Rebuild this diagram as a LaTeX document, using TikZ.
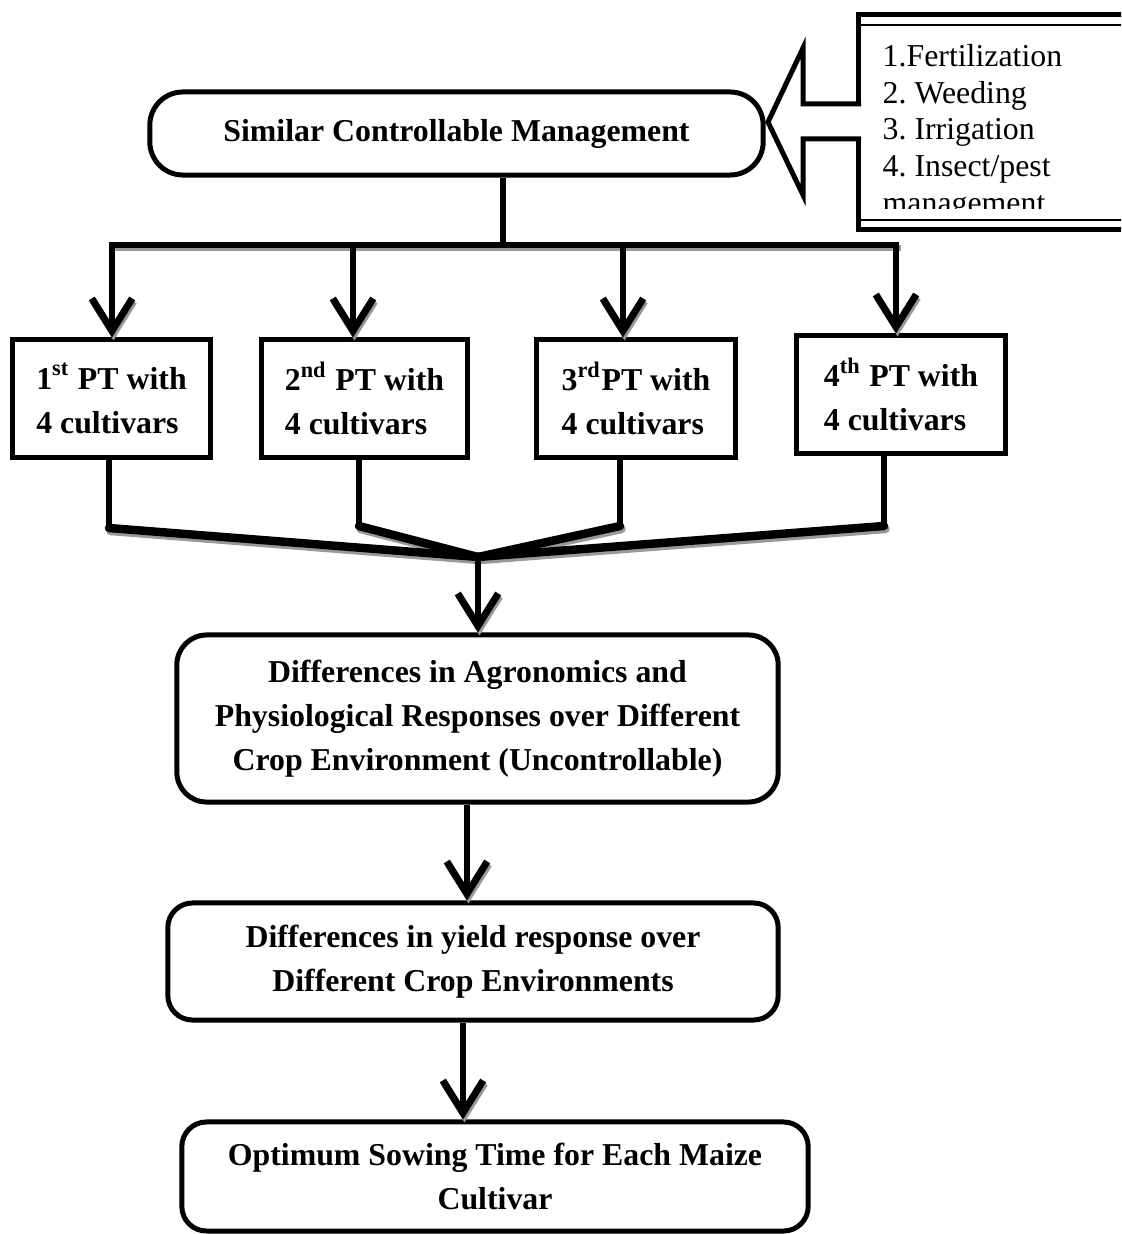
\documentclass[tikz,border=0pt]{standalone}
\usepackage{fontspec}
\setmainfont{Liberation Serif}
\usetikzlibrary{arrows.meta}
\frenchspacing
\begin{document}
\begin{tikzpicture}[x=0.01cm,y=-0.01cm,
  font=\fontsize{9.05pt}{12.5pt}\selectfont\bfseries,
  box/.style={draw, line width=1.42pt, fill=white, align=center, inner sep=0pt},
  ptbox/.style={box, align=left, minimum height=1.17cm},
  rbox/.style={box, rounded corners=#1},
  wire/.style={line width=1.75pt},
  fatwire/.style={line width=2.4pt, line cap=round},
  arr/.style={wire, -{Straight Barb[length=9.2pt,width=11.5pt,line width=2pt]}},
  shade/.style={draw=black!40, transform canvas={shift={(1.5,3)}}},
]
\useasboundingbox (0,0) rectangle (1121,1234);
\clip (0,0) rectangle (1121,1234);

% ---------- boxes ----------
\node[rbox=9.4pt, minimum width=6.13cm, minimum height=0.83cm] (mgmt) at (456.5,133.5) {Similar Controllable Management};

\node[ptbox, minimum width=1.97cm] (pt1) at (111.5,398.5) {1\textsuperscript{st} PT with\\4 cultivars};
\node[ptbox, minimum width=2.05cm] (pt2) at (364.5,398.5) {2\textsuperscript{nd} PT with\\4 cultivars};
\node[ptbox, minimum width=1.98cm] (pt3) at (636,398.5) {3\textsuperscript{rd}PT with\\4 cultivars};
\node[ptbox, minimum width=2.08cm] (pt4) at (901,394.5) {4\textsuperscript{th} PT with\\4 cultivars};

\node[rbox=8.5pt, minimum width=6.01cm, minimum height=1.67cm] (agro) at (477.5,718.5) {Differences in Agronomics and\\Physiological Responses over Different\\Crop Environment (Uncontrollable)};
\node[rbox=7pt, minimum width=6.10cm, minimum height=1.17cm] (yield) at (473,961.5) {Differences in yield response over\\Different Crop Environments};
\node[rbox=7pt, minimum width=6.26cm, minimum height=1.09cm] (opt) at (495,1176.5) {Optimum Sowing Time for Each Maize\\Cultivar};

% ---------- list box on the right ----------
\draw[line width=1.42pt] (1140,14.5) -- (858,14.5) -- (858,229.5) -- (1140,229.5);
\draw[line width=0.6pt] (861,25) -- (1140,25) (861,220) -- (1140,220);
\begin{scope}
  \clip (861,27) rectangle (1121,209);
  \node[anchor=north west, align=left, inner sep=0pt,
        font=\normalfont\fontsize{9.05pt}{10.45pt}\selectfont] (list) at (882,43.5)
       {1.Fertilization\\2. Weeding\\3. Irrigation\\4. Insect/pest\\management};
\end{scope}
% block arrow from the list to the management box
\fill[white] (862,104) -- (803,104) -- (803,48) -- (768,122) -- (803,195) -- (803,139) -- (862,139) -- cycle;
\draw[line width=1.42pt, line join=miter] (861,104) -- (803,104) -- (803,48) -- (768,122) -- (803,195) -- (803,139) -- (861,139);

% ---------- distribution bus ----------
\coordinate (bc) at (503,245);
\coordinate (bl) at (112,245);
\coordinate (br) at (896,245);
\coordinate (b2) at (353,245);
\coordinate (b3) at (623,245);
\draw[wire] (bc |- mgmt.south) -- (bc);
\draw[wire, line cap=rect, shade] (bl) -- (br);
\draw[wire, line cap=rect] (bl) -- (br);

\foreach \c/\n in {bl/pt1, b2/pt2, b3/pt3, br/pt4}{
  \path (\c |- \n.north) coordinate (t-\n);
  \draw[arr, shade] ([yshift=2pt]t-\n) -- (t-\n);
  \draw[arr] (\c) -- (t-\n);
}

% ---------- merging lines ----------
\coordinate (k1) at (109,528);
\coordinate (k2) at (359,526);
\coordinate (k3) at (620,526);
\coordinate (k4) at (884,526);
\coordinate (m) at (478,557);
\foreach \k in {k1,k2,k3,k4}{
  \draw[fatwire, shade] (\k) -- (m);
}
\draw[wire] (k1 |- pt1.south) -- (k1);
\draw[wire] (k2 |- pt2.south) -- (k2);
\draw[wire] (k3 |- pt3.south) -- (k3);
\draw[wire] (k4 |- pt4.south) -- (k4);
\foreach \k in {k1,k2,k3,k4}{
  \draw[fatwire] (\k) -- (m);
}
\path (m |- agro.north) coordinate (t-agro);
\draw[arr, shade] ([yshift=2pt]t-agro) -- (t-agro);
\draw[arr] (m) -- (t-agro);

% ---------- lower arrows ----------
\coordinate (s5) at (467,850);
\coordinate (s6) at (463,1070);
\path (s5 |- yield.north) coordinate (t-yield);
\path (s6 |- opt.north) coordinate (t-opt);
\draw[arr, shade] ([yshift=2pt]t-yield) -- (t-yield);
\draw[arr] (s5 |- agro.south) -- (t-yield);
\draw[arr, shade] ([yshift=2pt]t-opt) -- (t-opt);
\draw[arr] (s6 |- yield.south) -- (t-opt);
\end{tikzpicture}
\end{document}
